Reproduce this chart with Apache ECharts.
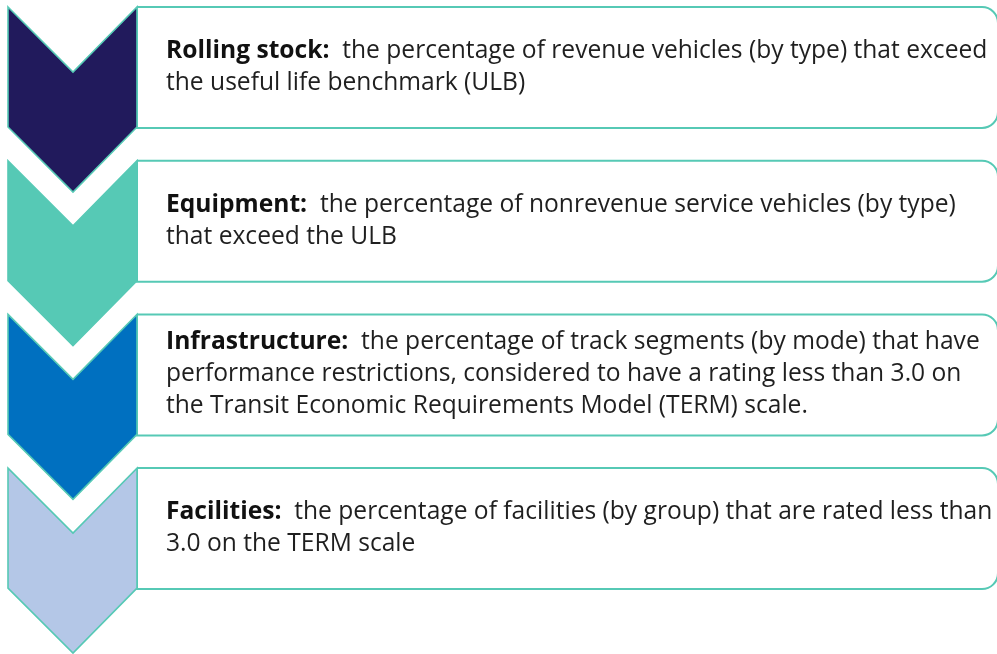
<!DOCTYPE html>
<html><head><meta charset="utf-8">
<script src="https://cdn.jsdelivr.net/npm/echarts@6/dist/echarts.min.js"></script>
<style>html,body{margin:0;padding:0;background:#fff}#c{width:997px;height:654px}</style>
</head><body><div id="c"></div>
<script>
// ---- data ----
const stepLabels = ['Rolling stock:', 'Equipment:', 'Infrastructure:', 'Facilities:'];
const stepLines = [
  ['the percentage of revenue vehicles (by type) that exceed', 'the useful life benchmark (ULB)'],
  ['the percentage of nonrevenue service vehicles (by type)', 'that exceed the ULB'],
  ['the percentage of track segments (by mode) that have', 'performance restrictions, considered to have a rating less than 3.0 on', 'the Transit Economic Requirements Model (TERM) scale.'],
  ['the percentage of facilities (by group) that are rated less than', '3.0 on the TERM scale']
];
const stepOrder = [0, 1, 2, 3];

// ---- styles ----
const chevronColors = ['#211A5C', '#56C9B5', '#0070C0', '#B4C7E7'];
const outline = '#56C9B5';
const W = 997, H = 654;
const FONT = 'Open Sans';
const FS = 24.6;

const chart = echarts.init(document.getElementById('c'), null, {renderer: 'canvas'});

function renderItem(params, api) {
  const i = api.value(0);
  const top = 7 + i * 153.7;
  const P = (x, y) => api.coord([x, y]);
  const c = [P(8, top), P(73, top + 65), P(137, top), P(137, top + 120), P(73, top + 185), P(8, top + 120)];
  const b0 = P(137, top), b1 = P(998, top + 121);
  const t = P(166, top + 60);
  const lines = stepLines[i];
  const text = '{b|' + stepLabels[i] + '}  ' + lines.join('\n');
  return {
    type: 'group',
    children: [
      {
        type: 'rect',
        shape: {x: b0[0], y: b0[1], width: b1[0] - b0[0], height: b1[1] - b0[1], r: [0, 16, 16, 0]},
        style: {fill: '#ffffff', stroke: outline, lineWidth: 2}
      },
      {
        type: 'polygon',
        shape: {points: c},
        style: {fill: chevronColors[i], stroke: outline, lineWidth: 1.6}
      },
      {
        type: 'text',
        x: t[0], y: t[1],
        style: {
          text: text,
          fill: '#1f1f1f',
          fontFamily: FONT,
          fontSize: FS,
          lineHeight: 32,
          verticalAlign: 'middle',
          align: 'left',
          rich: {
            b: {fontFamily: FONT, fontSize: FS, fontWeight: 'bold', lineHeight: 32, fill: '#111111'}
          }
        }
      }
    ]
  };
}

chart.setOption({
  animation: false,
  grid: {left: 0, right: 0, top: 0, bottom: 0},
  xAxis: {type: 'value', min: 0, max: W, show: false},
  yAxis: {type: 'value', min: 0, max: H, inverse: true, show: false},
  series: [{
    type: 'custom',
    coordinateSystem: 'cartesian2d',
    renderItem: renderItem,
    clip: false,
    data: stepOrder.map(i => [i])
  }]
});
</script></body></html>
